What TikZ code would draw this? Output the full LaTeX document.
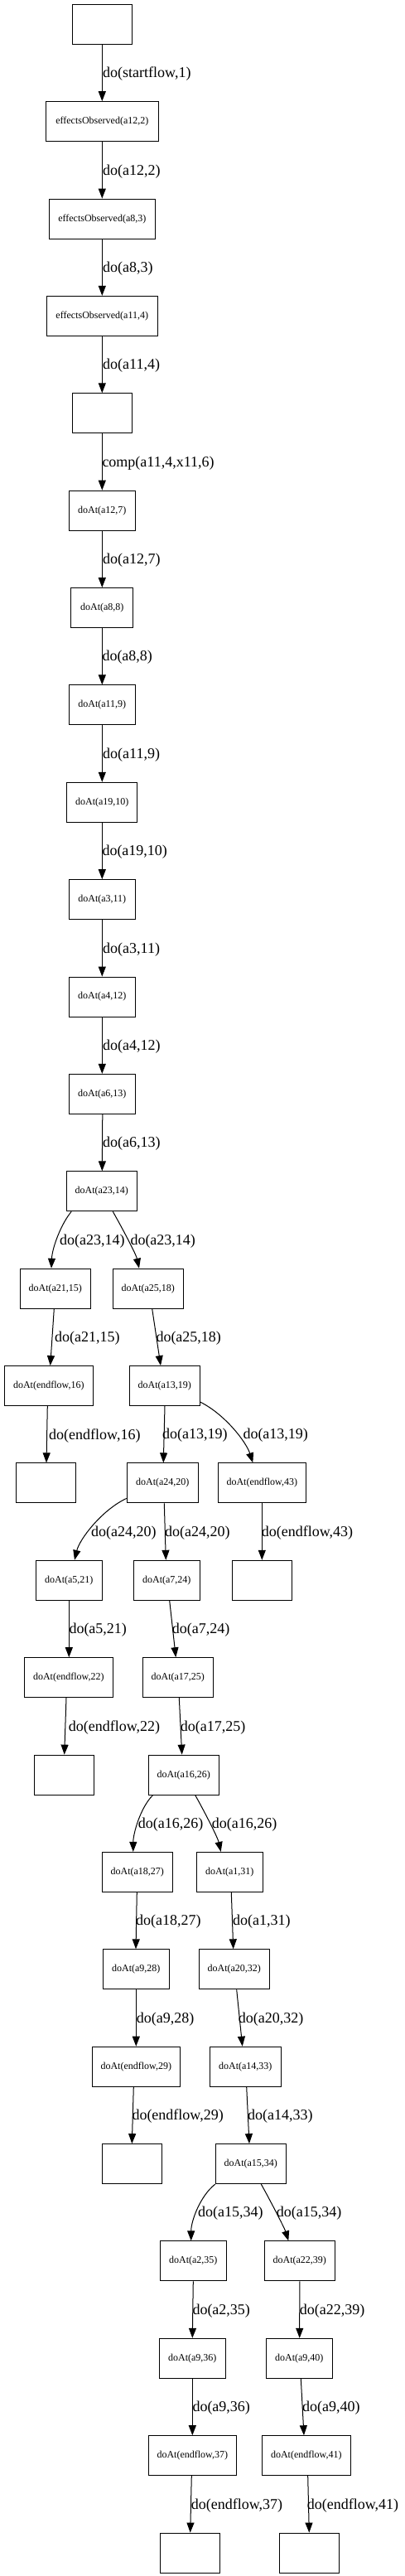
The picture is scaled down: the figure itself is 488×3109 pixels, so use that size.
\documentclass[tikz,border=0pt]{standalone}
\usepackage{fontspec}
\setmainfont{Liberation Serif}
\usetikzlibrary{arrows.meta}
\begin{document}
\begin{tikzpicture}[x=1pt,y=-1pt,
  box/.style={draw, line width=1pt, minimum height=48pt, inner sep=0pt, font=\fontsize{12}{14}\selectfont},
  lab/.style={anchor=west, inner sep=0pt, font=\fontsize{18}{20}\selectfont},
  conn/.style={draw, line width=1pt, -{Triangle[length=12pt,width=9pt]}}]
\useasboundingbox (0,0) rectangle (488,3109);
% nodes
\node[box, minimum width=72pt] (n0) at (123.3,29.3) {};
\node[box, minimum width=136.4pt] (n1) at (123.3,146.7) {effectsObserved(a12,2)};
\node[box, minimum width=128pt] (n2) at (123.3,264.1) {effectsObserved(a8,3)};
\node[box, minimum width=133.4pt] (n3) at (123.3,381.4) {effectsObserved(a11,4)};
\node[box, minimum width=72pt] (n4) at (123.3,498.8) {};
\node[box, minimum width=80pt] (n5) at (123.3,616.2) {doAt(a12,7)};
\node[box, minimum width=75pt] (n6) at (123.3,733.6) {doAt(a8,8)};
\node[box, minimum width=80pt] (n7) at (123.3,850.9) {doAt(a11,9)};
\node[box, minimum width=85pt] (n8) at (123.3,968.3) {doAt(a19,10)};
\node[box, minimum width=80pt] (n9) at (123.3,1085.7) {doAt(a3,11)};
\node[box, minimum width=80pt] (n10) at (123.3,1203.1) {doAt(a4,12)};
\node[box, minimum width=80pt] (n11) at (123.3,1320.4) {doAt(a6,13)};
\node[box, minimum width=85pt] (n12) at (122.8,1437.8) {doAt(a23,14)};
\node[box, minimum width=85pt] (n13) at (66.8,1555.2) {doAt(a21,15)};
\node[box, minimum width=85pt] (n14) at (178.8,1555.2) {doAt(a25,18)};
\node[box, minimum width=107pt] (n15) at (58.8,1672.6) {doAt(endflow,16)};
\node[box, minimum width=85pt] (n16) at (198.8,1672.6) {doAt(a13,19)};
\node[box, minimum width=72pt] (n17) at (55.5,1789.9) {};
\node[box, minimum width=86pt] (n18) at (196.3,1789.9) {doAt(a24,20)};
\node[box, minimum width=106pt] (n19) at (316.3,1789.9) {doAt(endflow,43)};
\node[box, minimum width=80pt] (n20) at (83.3,1907.3) {doAt(a5,21)};
\node[box, minimum width=80pt] (n21) at (201.3,1907.3) {doAt(a7,24)};
\node[box, minimum width=72pt] (n22) at (316.3,1907.3) {};
\node[box, minimum width=107pt] (n23) at (82.8,2024.7) {doAt(endflow,22)};
\node[box, minimum width=85pt] (n24) at (214.8,2024.7) {doAt(a17,25)};
\node[box, minimum width=72pt] (n25) at (77.3,2142.1) {};
\node[box, minimum width=85pt] (n26) at (221.8,2142.1) {doAt(a16,26)};
\node[box, minimum width=85pt] (n27) at (165.8,2259.4) {doAt(a18,27)};
\node[box, minimum width=80pt] (n28) at (277.3,2259.4) {doAt(a1,31)};
\node[box, minimum width=80pt] (n29) at (164.3,2376.8) {doAt(a9,28)};
\node[box, minimum width=85pt] (n30) at (282.8,2376.8) {doAt(a20,32)};
\node[box, minimum width=106pt] (n31) at (164.3,2494.2) {doAt(endflow,29)};
\node[box, minimum width=86pt] (n32) at (296.3,2494.2) {doAt(a14,33)};
\node[box, minimum width=72pt] (n33) at (159.3,2611.6) {};
\node[box, minimum width=85pt] (n34) at (302.8,2611.6) {doAt(a15,34)};
\node[box, minimum width=80pt] (n35) at (233.3,2728.9) {doAt(a2,35)};
\node[box, minimum width=85pt] (n36) at (361.8,2728.9) {doAt(a22,39)};
\node[box, minimum width=80pt] (n37) at (232.3,2846.3) {doAt(a9,36)};
\node[box, minimum width=80pt] (n38) at (361.3,2846.3) {doAt(a9,40)};
\node[box, minimum width=106pt] (n39) at (232.3,2963.7) {doAt(endflow,37)};
\node[box, minimum width=107pt] (n40) at (369.8,2963.7) {doAt(endflow,41)};
\node[box, minimum width=72pt] (n41) at (229.3,3081.1) {};
\node[box, minimum width=72pt] (n42) at (373.3,3081.1) {};
% main chain
\path[conn] (n0) -- (n1);
\path[conn] (n1) -- (n2);
\path[conn] (n2) -- (n3);
\path[conn] (n3) -- (n4);
\path[conn] (n4) -- (n5);
\path[conn] (n5) -- (n6);
\path[conn] (n6) -- (n7);
\path[conn] (n7) -- (n8);
\path[conn] (n8) -- (n9);
\path[conn] (n9) -- (n10);
\path[conn] (n10) -- (n11);
\path[conn] ([xshift=0.5pt]n11.south) -- ([xshift=0.5pt]n12.north);
% branches
\path[conn] ([xshift=6.4pt]n12.south west) .. controls +(-12,14) and +(1,-25) .. ([xshift=-4.8pt]n13.north);
\path[conn] ([xshift=13.5pt]n12.south) .. controls +(8,14) and +(-4,-18) .. ([xshift=-10.8pt]n14.north);
\path[conn] ([xshift=-1.5pt]n13.south) -- ([xshift=1.9pt]n15.north);
\path[conn] ([xshift=4.9pt]n14.south) -- ([xshift=-4.8pt]n16.north);
\path[conn] ([xshift=-1.5pt]n15.south) -- ([xshift=0.5pt]n17.north);
\path[conn] ([xshift=0.2pt]n16.south) -- ([xshift=1pt]n18.north);
\path[conn] ([yshift=5pt]n16.south east) .. controls +(30,15) and +(-8,-25) .. ([xshift=-11pt]n19.north);
\path[conn] ([yshift=6pt]n18.south west) .. controls +(-30,14) and +(6,-25) .. ([xshift=6.7pt]n20.north);
\path[conn] ([xshift=2pt]n18.south) -- ([xshift=-1pt]n21.north);
\path[conn] (n19) -- (n22);
\path[conn] (n20.south) -- ([xshift=0.5pt]n23.north);
\path[conn] ([xshift=3.4pt]n21.south) -- ([xshift=-2.5pt]n24.north);
\path[conn] ([xshift=-2.8pt]n23.south) -- ([xshift=0.4pt]n25.north);
\path[conn] ([xshift=1.5pt]n24.south) -- ([xshift=-2.1pt]n26.north);
\path[conn] ([xshift=5.7pt]n26.south west) .. controls +(-15,15) and +(0,-22) .. ([xshift=-5pt]n27.north);
\path[conn] ([xshift=13.9pt]n26.south) .. controls +(8,14) and +(-4,-18) .. ([xshift=-10.6pt]n28.north);
\path[conn] ([xshift=-0.5pt]n27.south) -- ([xshift=-0.3pt]n29.north);
\path[conn] ([xshift=2pt]n28.south) -- ([xshift=-1.1pt]n30.north);
\path[conn] (n29) -- (n31);
\path[conn] ([xshift=2.9pt]n30.south) -- ([xshift=-3.6pt]n32.north);
\path[conn] ([xshift=-3pt]n31.south) -- (n33.north);
\path[conn] ([xshift=1.4pt]n32.south) -- ([xshift=-1.8pt]n34.north);
\path[conn] (n34.south west) .. controls +(-18,14) and +(0,-24) .. ([xshift=-2.6pt]n35.north);
\path[conn] ([xshift=12.5pt]n34.south) .. controls +(8,14) and +(-5,-16) .. ([xshift=-13.5pt]n36.north);
\path[conn] (n35.south) -- ([xshift=0.0pt]n37.north);
\path[conn] (n36.south) -- ([xshift=0.4pt]n38.north);
\path[conn] (n37) -- (n39);
\path[conn] ([xshift=2pt]n38.south) -- ([xshift=-2.8pt]n40.north);
\path[conn] ([xshift=-1pt]n39.south) -- ([xshift=0.4pt]n41.north);
\path[conn] ([xshift=1.9pt]n40.south) -- (n42.north);
% edge labels
\node[lab] (l1) at (124,89.3) {do(startflow,1)};
\node[lab] (l2) at (124,206.7) {do(a12,2)};
\node[lab] (l3) at (124,324.1) {do(a8,3)};
\node[lab] (l4) at (124,441.4) {do(a11,4)};
\node[lab] (l5) at (123.3,558.8) {comp(a11,4,x11,6)};
\node[lab] (l6) at (124,676.2) {do(a12,7)};
\node[lab] (l7) at (123.3,793.6) {do(a8,8)};
\node[lab] (l8) at (124,910.9) {do(a11,9)};
\node[lab] (l9) at (123.3,1028.3) {do(a19,10)};
\node[lab] (l10) at (124,1145.7) {do(a3,11)};
\node[lab] (l11) at (124,1263.1) {do(a4,12)};
\node[lab] (l12) at (124,1380.4) {do(a6,13)};
\node[lab] (l13) at (72,1497.8) {do(a23,14)};
\node[lab] (l14) at (157.3,1497.8) {do(a23,14)};
\node[lab] (l15) at (66,1615.2) {do(a21,15)};
\node[lab] (l16) at (188.3,1615.2) {do(a25,18)};
\node[lab] (l17) at (59,1732.6) {do(endflow,16)};
\node[lab] (l18) at (196,1732.6) {do(a13,19)};
\node[lab] (l19) at (293.3,1732.6) {do(a13,19)};
\node[lab] (l20) at (110,1849.9) {do(a24,20)};
\node[lab] (l21) at (199,1849.9) {do(a24,20)};
\node[lab] (l22) at (315.7,1849.9) {do(endflow,43)};
\node[lab] (l23) at (83.3,1967.3) {do(a5,21)};
\node[lab] (l24) at (207.7,1967.3) {do(a7,24)};
\node[lab] (l25) at (82.7,2084.7) {do(endflow,22)};
\node[lab] (l26) at (217.7,2084.7) {do(a17,25)};
\node[lab] (l27) at (166.7,2202.1) {do(a16,26)};
\node[lab] (l28) at (255.7,2202.1) {do(a16,26)};
\node[lab] (l29) at (164,2319.4) {do(a18,27)};
\node[lab] (l30) at (281,2319.4) {do(a1,31)};
\node[lab] (l31) at (164.7,2436.8) {do(a9,28)};
\node[lab] (l32) at (287.7,2436.8) {do(a20,32)};
\node[lab] (l33) at (159.3,2554.2) {do(endflow,29)};
\node[lab] (l34) at (299,2554.2) {do(a14,33)};
\node[lab] (l35) at (239,2671.6) {do(a15,34)};
\node[lab] (l36) at (333.7,2671.6) {do(a15,34)};
\node[lab] (l37) at (232.3,2788.9) {do(a2,35)};
\node[lab] (l38) at (361.7,2788.9) {do(a22,39)};
\node[lab] (l39) at (232.3,2906.3) {do(a9,36)};
\node[lab] (l40) at (365,2906.3) {do(a9,40)};
\node[lab] (l41) at (230.7,3023.7) {do(endflow,37)};
\node[lab] (l42) at (370.7,3023.7) {do(endflow,41)};
\end{tikzpicture}
\end{document}
